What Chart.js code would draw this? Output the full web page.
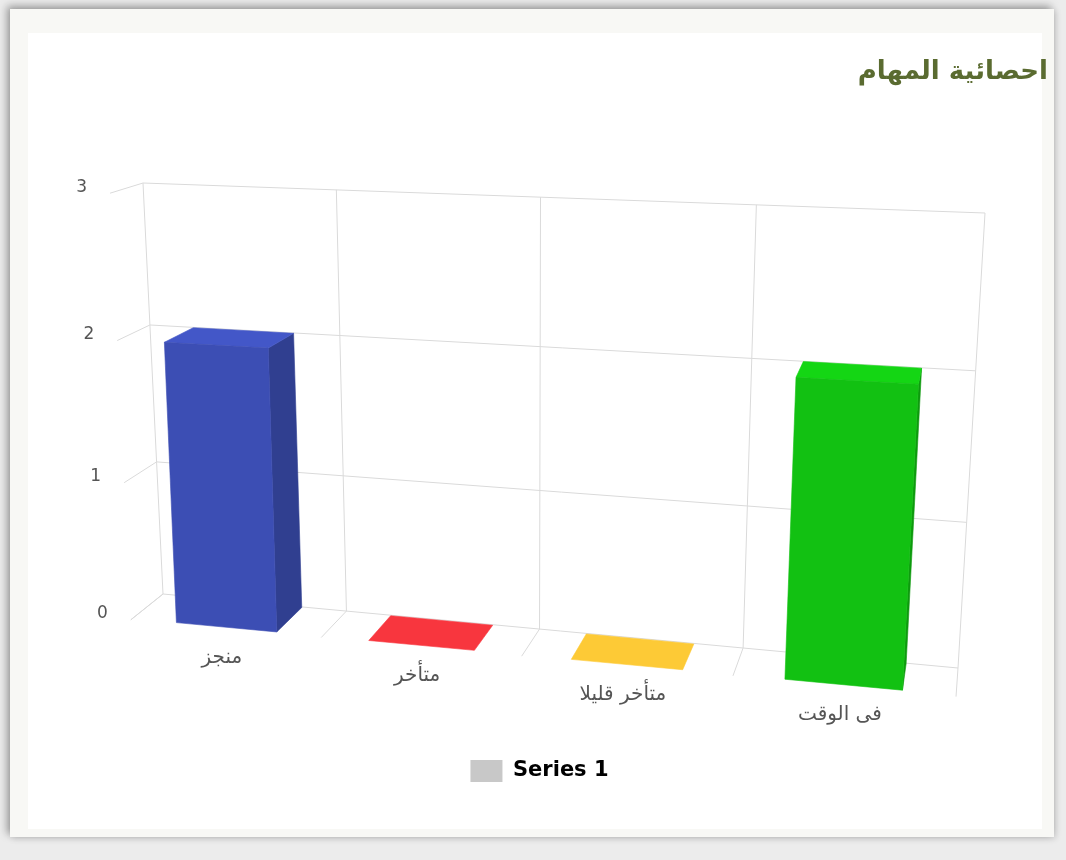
<!DOCTYPE html>
<html>
<head>
<meta charset="utf-8">
<script src="https://cdn.jsdelivr.net/npm/chart.js@4.4.1/dist/chart.umd.min.js"></script>
<style>
  html, body { margin:0; padding:0; width:1066px; height:860px; overflow:hidden; background:#ececec; }
  #card { position:absolute; left:10px; top:9px; width:1044px; height:828px; background:#f8f8f5;
          box-shadow:-3px -3px 8px rgba(0,0,0,0.35), 2px 2px 6px rgba(0,0,0,0.12); }
  #inner { position:absolute; left:18px; top:24px; right:12px; bottom:8px; background:#ffffff; }
  #c { position:absolute; left:0; top:0; }
</style>
</head>
<body>
<div id="card"><div id="inner"></div></div>
<canvas id="c" width="1066" height="860"></canvas>
<script>
// ---- data ----
const categories = ['منجز', 'متأخر', 'متأخر قليلا', 'فى الوقت'];
const seriesName = 'Series 1';
const seriesValues = [2, 0, 0, 2];
const yTicks = [0, 1, 2, 3];
const titleText = 'احصائية المهام';

// ---- styles ----
const barColors = ['#4357c8', '#f8363e', '#fdca36', '#14d614'];
const legendColor = '#c8c8c8';
const gridColor = '#dadada';

// ---- perspective view (back wall quad, vanishing point of depth, depth scale) ----
const VIEW = {
  wall: { bl: [163, 594], br: [958, 668], tr: [985, 213], tl: [143, 183] },
  vanish: [1010, -85],
  depthScale: 1.038,
  barDepth: [0.02, 0.95]
};

function makeHomography(p0, p1, p2, p3) {
  // unit square (0,0),(1,0),(1,1),(0,1) -> p0,p1,p2,p3
  const [x0, y0] = p0, [x1, y1] = p1, [x2, y2] = p2, [x3, y3] = p3;
  const dx1 = x1 - x2, dx2 = x3 - x2, dx3 = x0 - x1 + x2 - x3;
  const dy1 = y1 - y2, dy2 = y3 - y2, dy3 = y0 - y1 + y2 - y3;
  const den = dx1 * dy2 - dx2 * dy1;
  const g = (dx3 * dy2 - dx2 * dy3) / den;
  const h = (dx1 * dy3 - dx3 * dy1) / den;
  const a = x1 - x0 + g * x1, b = x3 - x0 + h * x3, c = x0;
  const d = y1 - y0 + g * y1, e = y3 - y0 + h * y3, f = y0;
  return (u, v) => {
    const w = g * u + h * v + 1;
    return [(a * u + b * v + c) / w, (d * u + e * v + f) / w];
  };
}
const H = makeHomography(VIEW.wall.bl, VIEW.wall.br, VIEW.wall.tr, VIEW.wall.tl);
function P(u, v, t) {
  const q = H(u, v);
  const k = 1 + (VIEW.depthScale - 1) * t;
  return [VIEW.vanish[0] + (q[0] - VIEW.vanish[0]) * k, VIEW.vanish[1] + (q[1] - VIEW.vanish[1]) * k];
}
function shade(hex, f) {
  const n = parseInt(hex.slice(1), 16);
  const r = Math.round(((n >> 16) & 255) * f), g = Math.round(((n >> 8) & 255) * f), b = Math.round((n & 255) * f);
  return 'rgb(' + r + ',' + g + ',' + b + ')';
}

const perspective3d = {
  id: 'perspective3d',
  beforeDatasetsDraw(chart) {
    const ctx = chart.ctx, area = chart.chartArea;
    const xs = chart.scales.x, ys = chart.scales.y;
    const toU = px => (px - area.left) / (area.right - area.left);
    const toV = py => (area.bottom - py) / (area.bottom - area.top);
    const path = pts => { ctx.beginPath(); ctx.moveTo(pts[0][0], pts[0][1]); for (let i = 1; i < pts.length; i++) ctx.lineTo(pts[i][0], pts[i][1]); };
    const poly = (pts, col) => { path(pts); ctx.closePath(); ctx.fillStyle = col; ctx.fill(); ctx.strokeStyle = col; ctx.lineWidth = 0.6; ctx.stroke(); };

    ctx.save();
    // grid: value lines (left side wall + back wall)
    ctx.strokeStyle = gridColor; ctx.lineWidth = 1;
    yTicks.forEach(val => {
      const v = toV(ys.getPixelForValue(val));
      path([P(0, v, 1), P(0, v, 0), P(1, v, 0)]); ctx.stroke();
    });
    // grid: category boundaries (back wall verticals + floor depth lines)
    const n = categories.length;
    const step = xs.getPixelForValue(1) - xs.getPixelForValue(0);
    for (let i = 0; i <= n; i++) {
      const u = toU(xs.getPixelForValue(0) + (i - 0.5) * step);
      path([P(u, 1, 0), P(u, 0, 0), P(u, 0, 1)]); ctx.stroke();
    }

    // bars as boxes
    const meta = chart.getDatasetMeta(0);
    const [t0, t1] = VIEW.barDepth;
    meta.data.forEach((el, i) => {
      const { x, y, base, width } = el.getProps(['x', 'y', 'base', 'width'], true);
      const u0 = toU(x - width / 2), u1 = toU(x + width / 2);
      const v0 = toV(base), v1 = toV(y);
      const col = chart.data.datasets[0].backgroundColor[i];
      if (v1 - v0 > 1e-4) {
        poly([P(u1, v0, t1), P(u1, v0, t0), P(u1, v1, t0), P(u1, v1, t1)], shade(col, 0.72));
      }
      poly([P(u0, v1, t0), P(u1, v1, t0), P(u1, v1, t1), P(u0, v1, t1)], col);
      if (v1 - v0 > 1e-4) {
        poly([P(u0, v0, t1), P(u1, v0, t1), P(u1, v1, t1), P(u0, v1, t1)], shade(col, 0.9));
      }
    });

    // axis labels
    ctx.fillStyle = '#555555';
    ctx.font = '17px "DejaVu Sans"';
    ctx.textAlign = 'right'; ctx.textBaseline = 'middle';
    yTicks.forEach(val => {
      const p = P(0, toV(ys.getPixelForValue(val)), 1);
      ctx.fillText(String(val), p[0] - 23, p[1] - 6);
    });
    ctx.font = '20px "DejaVu Sans"';
    ctx.textAlign = 'center';
    categories.forEach((lab, i) => {
      const p = P(toU(xs.getPixelForValue(i)), 0, 1);
      ctx.fillText(lab, p[0] - 3, p[1] + 29);
    });
    ctx.restore();
    return false;
  }
};

new Chart(document.getElementById('c'), {
  type: 'bar',
  data: {
    labels: categories,
    datasets: [{
      label: seriesName,
      data: seriesValues,
      backgroundColor: barColors,
      categoryPercentage: 0.8,
      barPercentage: 0.66
    }]
  },
  options: {
    responsive: false,
    devicePixelRatio: 1,
    animation: false,
    layout: { padding: { top: 57, right: 18, bottom: 68, left: 31 } },
    scales: {
      x: { display: false },
      y: { display: false, min: 0, max: 3, ticks: { stepSize: 1 } }
    },
    plugins: {
      tooltip: { enabled: false },
      title: {
        display: true, text: titleText, align: 'end', color: '#5a6b30',
        font: { family: 'DejaVu Sans', size: 26, weight: 'bold' },
        padding: { top: 0, bottom: 20 }
      },
      legend: {
        position: 'bottom',
        labels: {
          boxWidth: 32, boxHeight: 22, color: '#333333',
          font: { family: 'DejaVu Sans', size: 21, weight: 'bold' },
          generateLabels: () => [{ text: seriesName, fillStyle: legendColor, strokeStyle: legendColor, lineWidth: 0, hidden: false, datasetIndex: 0 }]
        }
      }
    }
  },
  plugins: [perspective3d]
});
</script>
</body>
</html>
